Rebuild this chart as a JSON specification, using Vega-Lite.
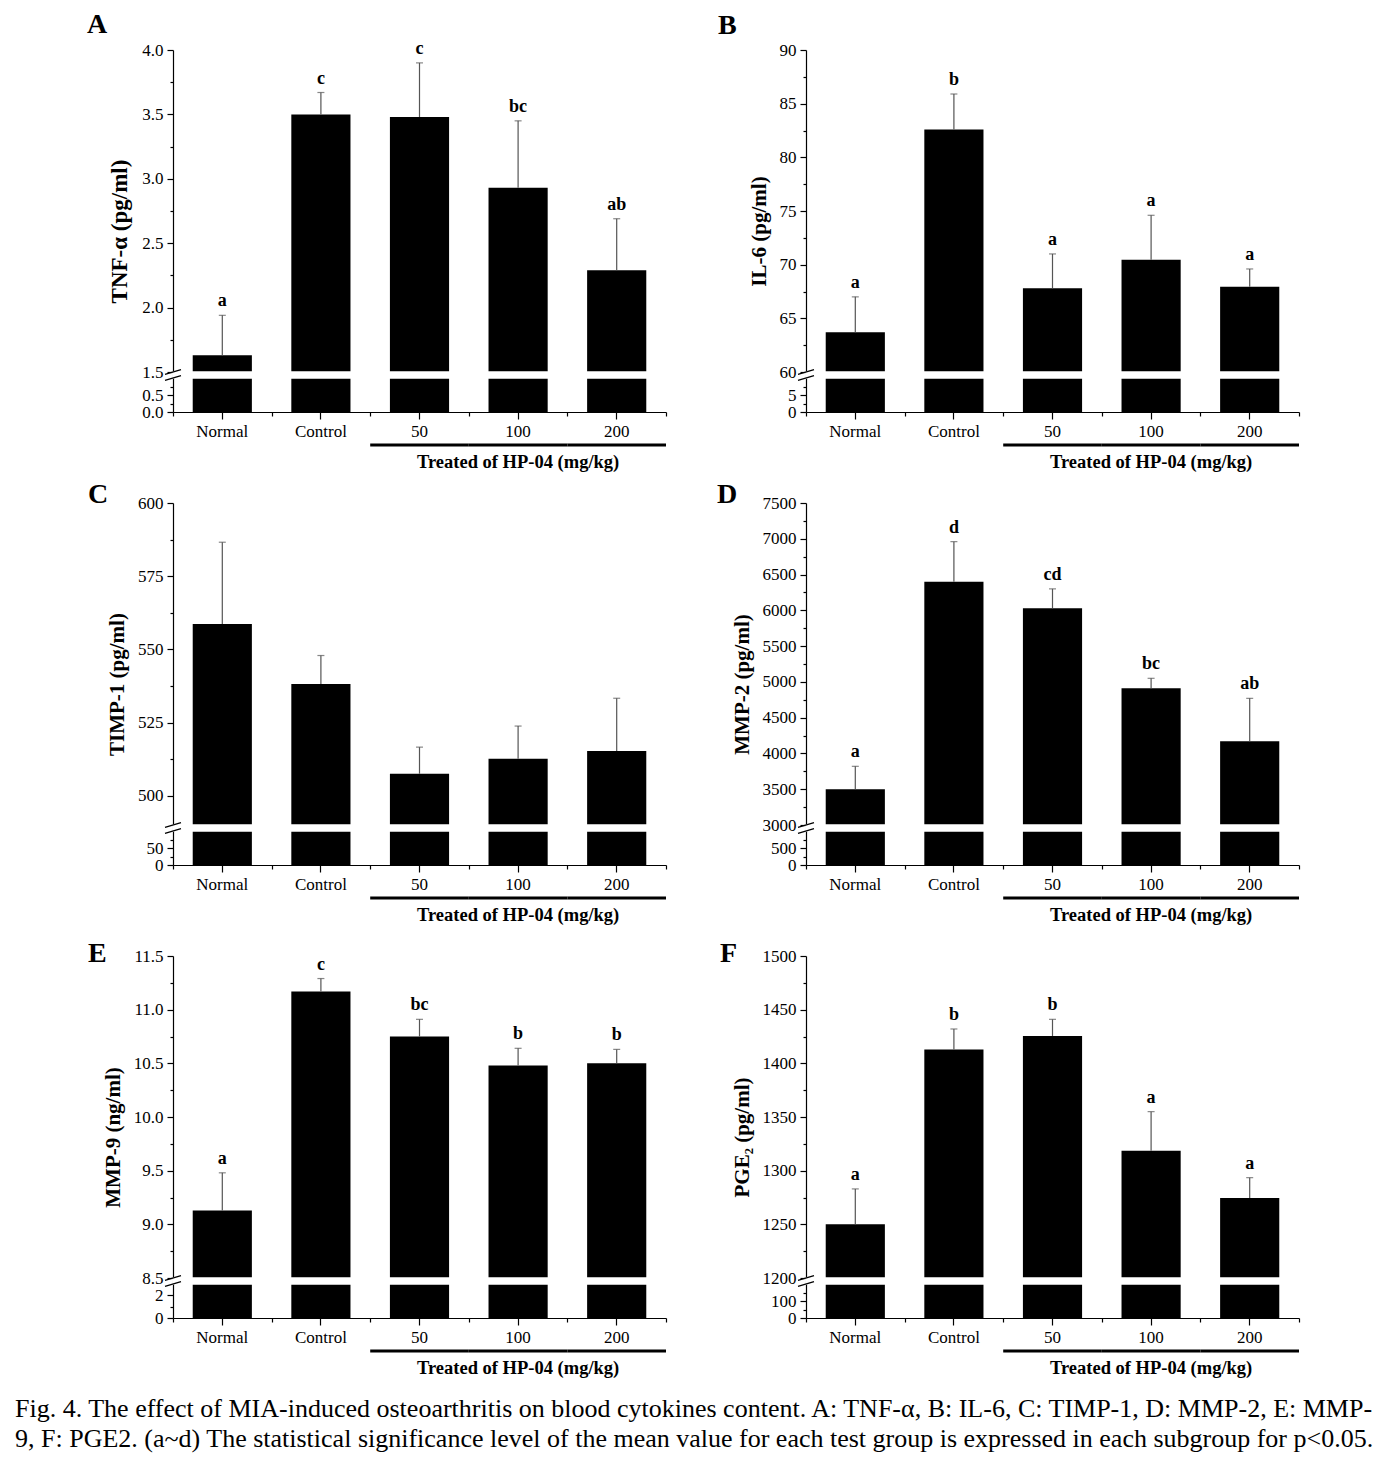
{
  "$schema": "https://vega.github.io/schema/vega-lite/v6.json",
  "padding": {"left": 15, "top": 11, "right": 10, "bottom": 5},
  "title": {
    "text": ["Fig. 4. The effect of MIA-induced osteoarthritis on blood cytokines content. A: TNF-α, B: IL-6, C: TIMP-1, D: MMP-2, E: MMP-", "9, F: PGE2. (a~d) The statistical significance level of the mean value for each test group is expressed in each subgroup for p<0.05."],
    "orient": "bottom", "anchor": "start", "frame": "bounds", "dx": -72, "offset": 18,
    "fontSize": 26, "fontWeight": "normal", "baseline": "top", "lineHeight": 30,
    "font": "Liberation Serif", "color": "black"
  },
  "datasets": {
    "bars": [
      {"panel": "A", "group": "Normal", "mean": 1.63, "upper": 1.94, "sig": "a"},
      {"panel": "A", "group": "Control", "mean": 3.50, "upper": 3.67, "sig": "c"},
      {"panel": "A", "group": "50", "mean": 3.48, "upper": 3.90, "sig": "c"},
      {"panel": "A", "group": "100", "mean": 2.93, "upper": 3.45, "sig": "bc"},
      {"panel": "A", "group": "200", "mean": 2.29, "upper": 2.69, "sig": "ab"},
      {"panel": "B", "group": "Normal", "mean": 63.7, "upper": 67.0, "sig": "a"},
      {"panel": "B", "group": "Control", "mean": 82.6, "upper": 85.9, "sig": "b"},
      {"panel": "B", "group": "50", "mean": 67.8, "upper": 71.0, "sig": "a"},
      {"panel": "B", "group": "100", "mean": 70.45, "upper": 74.6, "sig": "a"},
      {"panel": "B", "group": "200", "mean": 67.95, "upper": 69.6, "sig": "a"},
      {"panel": "C", "group": "Normal", "mean": 558.7, "upper": 586.6, "sig": ""},
      {"panel": "C", "group": "Control", "mean": 538.2, "upper": 547.9, "sig": ""},
      {"panel": "C", "group": "50", "mean": 507.5, "upper": 516.6, "sig": ""},
      {"panel": "C", "group": "100", "mean": 512.6, "upper": 523.8, "sig": ""},
      {"panel": "C", "group": "200", "mean": 515.3, "upper": 533.3, "sig": ""},
      {"panel": "D", "group": "Normal", "mean": 3500, "upper": 3820, "sig": "a"},
      {"panel": "D", "group": "Control", "mean": 6400, "upper": 6960, "sig": "d"},
      {"panel": "D", "group": "50", "mean": 6030, "upper": 6300, "sig": "cd"},
      {"panel": "D", "group": "100", "mean": 4910, "upper": 5050, "sig": "bc"},
      {"panel": "D", "group": "200", "mean": 4170, "upper": 4770, "sig": "ab"},
      {"panel": "E", "group": "Normal", "mean": 9.13, "upper": 9.48, "sig": "a"},
      {"panel": "E", "group": "Control", "mean": 11.17, "upper": 11.29, "sig": "c"},
      {"panel": "E", "group": "50", "mean": 10.75, "upper": 10.91, "sig": "bc"},
      {"panel": "E", "group": "100", "mean": 10.48, "upper": 10.64, "sig": "b"},
      {"panel": "E", "group": "200", "mean": 10.50, "upper": 10.63, "sig": "b"},
      {"panel": "F", "group": "Normal", "mean": 1250, "upper": 1283, "sig": "a"},
      {"panel": "F", "group": "Control", "mean": 1413, "upper": 1432, "sig": "b"},
      {"panel": "F", "group": "50", "mean": 1425.5, "upper": 1441, "sig": "b"},
      {"panel": "F", "group": "100", "mean": 1318.5, "upper": 1355, "sig": "a"},
      {"panel": "F", "group": "200", "mean": 1274.5, "upper": 1293.5, "sig": "a"}
    ],
    "breaks": [
      {"panel": "A", "lo": 1, "hi": 1.5},
      {"panel": "B", "lo": 10, "hi": 60},
      {"panel": "C", "lo": 100, "hi": 490},
      {"panel": "D", "lo": 1000, "hi": 3000},
      {"panel": "E", "lo": 3, "hi": 8.5},
      {"panel": "F", "lo": 200, "hi": 1200}
    ]
  },
  "columns": 2,
  "bounds": "flush",
  "spacing": {"row": 91, "column": 140},
  "concat": [
    {
      "width": 493, "height": 362,
      "title": {"text": "A", "dx": -86, "dy": 3.3},
      "layer": [
        {"data": {"name": "bars"}, "transform": [{"filter": "datum.panel === 'A'"}],
         "mark": {"type": "bar", "color": "black", "width": {"band": 0.6}},
         "encoding": {
           "x": {"field": "group", "type": "nominal", "scale": {"domain": ["Normal", "Control", "50", "100", "200"], "paddingInner": 0, "paddingOuter": 0}, "axis": {"title": null, "labelAngle": 0, "tickSize": 7}},
           "y": {"field": "mean", "type": "quantitative", "scale": {"domain": [0, 1, 1.5, 4], "range": [362, 328, 322, 0], "nice": false, "zero": false},
             "axis": {"title": "TNF-α (pg/ml)", "titleFontSize": 23, "labelOverlap": false, "tickCount": 200, "values": [0, 0.25, 0.5, 0.75, 1.5, 1.75, 2, 2.25, 2.5, 2.75, 3, 3.25, 3.5, 3.75, 4],
               "labelExpr": "indexof([0,0.5,1.5,2,2.5,3,3.5,4], datum.value) >= 0 ? format(datum.value, '.1f') : ''",
               "tickSize": {"condition": {"test": "indexof([0,0.5,1.5,2,2.5,3,3.5,4], datum.value) >= 0", "value": 6}, "value": 3}}}
         }},
        {"data": {"name": "breaks"}, "transform": [{"filter": "datum.panel === 'A'"}],
         "mark": {"type": "rect", "color": "white", "stroke": "white", "strokeWidth": 1.5},
         "encoding": {"x": {"value": 0}, "x2": {"value": "width"}, "y": {"field": "lo", "type": "quantitative"}, "y2": {"field": "hi"}}},
        {"data": {"name": "breaks"}, "transform": [{"filter": "datum.panel === 'A'"}],
         "mark": {"type": "point", "shape": "M -1 0.3 L 1 -0.3 M -1 1.05 L 1 0.45", "filled": false, "stroke": "black", "strokeWidth": 1.3, "size": 256, "opacity": 1},
         "encoding": {"x": {"value": 0}, "y": {"field": "hi", "type": "quantitative"}}},
        {"data": {"name": "bars"}, "transform": [{"filter": "datum.panel === 'A'"}],
         "mark": {"type": "rule", "color": "#555", "strokeWidth": 1.2},
         "encoding": {"x": {"field": "group", "type": "nominal", "axis": null}, "y": {"field": "mean", "type": "quantitative"}, "y2": {"field": "upper"}}},
        {"data": {"name": "bars"}, "transform": [{"filter": "datum.panel === 'A'"}],
         "mark": {"type": "tick", "color": "#555", "thickness": 1.2, "size": 7, "orient": "horizontal"},
         "encoding": {"x": {"field": "group", "type": "nominal", "axis": {"orient": "bottom", "tickBand": "extent", "labels": false, "domain": false, "tickSize": 4, "title": null}}, "y": {"field": "upper", "type": "quantitative"}}},
        {"data": {"name": "bars"}, "transform": [{"filter": "datum.panel === 'A'"}],
         "mark": {"type": "text", "font": "Liberation Serif", "fontWeight": "bold", "fontSize": 18, "baseline": "alphabetic", "dy": -9},
         "encoding": {"x": {"field": "group", "type": "nominal", "axis": null}, "y": {"field": "upper", "type": "quantitative"}, "text": {"field": "sig"}}},
        {"data": {"name": "bars"}, "transform": [{"filter": "datum.panel === 'A'"}, {"filter": {"field": "group", "oneOf": ["50", "100", "200"]}}],
         "mark": {"type": "rect", "color": "black"},
         "encoding": {"x": {"field": "group", "type": "nominal", "axis": null}, "y": {"value": 393.5}, "y2": {"value": 396.5}}},
        {"data": {"name": "bars"}, "transform": [{"filter": "datum.panel === 'A' && datum.group === '100'"}],
         "mark": {"type": "text", "font": "Liberation Serif", "fontWeight": "bold", "fontSize": 18.5, "baseline": "middle"},
         "encoding": {"x": {"field": "group", "type": "nominal", "axis": null}, "y": {"value": 412}, "text": {"value": "Treated of HP-04 (mg/kg)"}}}
      ],
      "resolve": {"axis": {"x": "independent"}}
    },
    {
      "width": 493, "height": 362,
      "title": {"text": "B", "dx": -88, "dy": 3.3},
      "layer": [
        {"data": {"name": "bars"}, "transform": [{"filter": "datum.panel === 'B'"}],
         "mark": {"type": "bar", "color": "black", "width": {"band": 0.6}},
         "encoding": {
           "x": {"field": "group", "type": "nominal", "scale": {"domain": ["Normal", "Control", "50", "100", "200"], "paddingInner": 0, "paddingOuter": 0}, "axis": {"title": null, "labelAngle": 0, "tickSize": 7}},
           "y": {"field": "mean", "type": "quantitative", "scale": {"domain": [0, 10, 60, 90], "range": [362, 328, 322, 0], "nice": false, "zero": false},
             "axis": {"title": "IL-6 (pg/ml)", "labelOverlap": false, "tickCount": 200, "values": [0, 2.5, 5, 7.5, 60, 62.5, 65, 67.5, 70, 72.5, 75, 77.5, 80, 82.5, 85, 87.5, 90],
               "labelExpr": "indexof([0,5,60,65,70,75,80,85,90], datum.value) >= 0 ? format(datum.value, 'd') : ''",
               "tickSize": {"condition": {"test": "indexof([0,5,60,65,70,75,80,85,90], datum.value) >= 0", "value": 6}, "value": 3}}}
         }},
        {"data": {"name": "breaks"}, "transform": [{"filter": "datum.panel === 'B'"}],
         "mark": {"type": "rect", "color": "white", "stroke": "white", "strokeWidth": 1.5},
         "encoding": {"x": {"value": 0}, "x2": {"value": "width"}, "y": {"field": "lo", "type": "quantitative"}, "y2": {"field": "hi"}}},
        {"data": {"name": "breaks"}, "transform": [{"filter": "datum.panel === 'B'"}],
         "mark": {"type": "point", "shape": "M -1 0.3 L 1 -0.3 M -1 1.05 L 1 0.45", "filled": false, "stroke": "black", "strokeWidth": 1.3, "size": 256, "opacity": 1},
         "encoding": {"x": {"value": 0}, "y": {"field": "hi", "type": "quantitative"}}},
        {"data": {"name": "bars"}, "transform": [{"filter": "datum.panel === 'B'"}],
         "mark": {"type": "rule", "color": "#555", "strokeWidth": 1.2},
         "encoding": {"x": {"field": "group", "type": "nominal", "axis": null}, "y": {"field": "mean", "type": "quantitative"}, "y2": {"field": "upper"}}},
        {"data": {"name": "bars"}, "transform": [{"filter": "datum.panel === 'B'"}],
         "mark": {"type": "tick", "color": "#555", "thickness": 1.2, "size": 7, "orient": "horizontal"},
         "encoding": {"x": {"field": "group", "type": "nominal", "axis": {"orient": "bottom", "tickBand": "extent", "labels": false, "domain": false, "tickSize": 4, "title": null}}, "y": {"field": "upper", "type": "quantitative"}}},
        {"data": {"name": "bars"}, "transform": [{"filter": "datum.panel === 'B'"}],
         "mark": {"type": "text", "font": "Liberation Serif", "fontWeight": "bold", "fontSize": 18, "baseline": "alphabetic", "dy": -9},
         "encoding": {"x": {"field": "group", "type": "nominal", "axis": null}, "y": {"field": "upper", "type": "quantitative"}, "text": {"field": "sig"}}},
        {"data": {"name": "bars"}, "transform": [{"filter": "datum.panel === 'B'"}, {"filter": {"field": "group", "oneOf": ["50", "100", "200"]}}],
         "mark": {"type": "rect", "color": "black"},
         "encoding": {"x": {"field": "group", "type": "nominal", "axis": null}, "y": {"value": 393.5}, "y2": {"value": 396.5}}},
        {"data": {"name": "bars"}, "transform": [{"filter": "datum.panel === 'B' && datum.group === '100'"}],
         "mark": {"type": "text", "font": "Liberation Serif", "fontWeight": "bold", "fontSize": 18.5, "baseline": "middle"},
         "encoding": {"x": {"field": "group", "type": "nominal", "axis": null}, "y": {"value": 412}, "text": {"value": "Treated of HP-04 (mg/kg)"}}}
      ],
      "resolve": {"axis": {"x": "independent"}}
    },
    {
      "width": 493, "height": 362,
      "title": {"text": "C", "dx": -85, "dy": 18.5},
      "layer": [
        {"data": {"name": "bars"}, "transform": [{"filter": "datum.panel === 'C'"}],
         "mark": {"type": "bar", "color": "black", "width": {"band": 0.6}},
         "encoding": {
           "x": {"field": "group", "type": "nominal", "scale": {"domain": ["Normal", "Control", "50", "100", "200"], "paddingInner": 0, "paddingOuter": 0}, "axis": {"title": null, "labelAngle": 0, "tickSize": 7}},
           "y": {"field": "mean", "type": "quantitative", "scale": {"domain": [0, 100, 490, 600], "range": [362, 328, 322, 0], "nice": false, "zero": false},
             "axis": {"title": "TIMP-1 (pg/ml)", "labelOverlap": false, "tickCount": 200, "values": [0, 25, 50, 75, 500, 512.5, 525, 537.5, 550, 562.5, 575, 587.5, 600],
               "labelExpr": "indexof([0,50,500,525,550,575,600], datum.value) >= 0 ? format(datum.value, 'd') : ''",
               "tickSize": {"condition": {"test": "indexof([0,50,500,525,550,575,600], datum.value) >= 0", "value": 6}, "value": 3}}}
         }},
        {"data": {"name": "breaks"}, "transform": [{"filter": "datum.panel === 'C'"}],
         "mark": {"type": "rect", "color": "white", "stroke": "white", "strokeWidth": 1.5},
         "encoding": {"x": {"value": 0}, "x2": {"value": "width"}, "y": {"field": "lo", "type": "quantitative"}, "y2": {"field": "hi"}}},
        {"data": {"name": "breaks"}, "transform": [{"filter": "datum.panel === 'C'"}],
         "mark": {"type": "point", "shape": "M -1 0.3 L 1 -0.3 M -1 1.05 L 1 0.45", "filled": false, "stroke": "black", "strokeWidth": 1.3, "size": 256, "opacity": 1},
         "encoding": {"x": {"value": 0}, "y": {"field": "hi", "type": "quantitative"}}},
        {"data": {"name": "bars"}, "transform": [{"filter": "datum.panel === 'C'"}],
         "mark": {"type": "rule", "color": "#555", "strokeWidth": 1.2},
         "encoding": {"x": {"field": "group", "type": "nominal", "axis": null}, "y": {"field": "mean", "type": "quantitative"}, "y2": {"field": "upper"}}},
        {"data": {"name": "bars"}, "transform": [{"filter": "datum.panel === 'C'"}],
         "mark": {"type": "tick", "color": "#555", "thickness": 1.2, "size": 7, "orient": "horizontal"},
         "encoding": {"x": {"field": "group", "type": "nominal", "axis": {"orient": "bottom", "tickBand": "extent", "labels": false, "domain": false, "tickSize": 4, "title": null}}, "y": {"field": "upper", "type": "quantitative"}}},
        {"data": {"name": "bars"}, "transform": [{"filter": "datum.panel === 'C'"}, {"filter": {"field": "group", "oneOf": ["50", "100", "200"]}}],
         "mark": {"type": "rect", "color": "black"},
         "encoding": {"x": {"field": "group", "type": "nominal", "axis": null}, "y": {"value": 393.5}, "y2": {"value": 396.5}}},
        {"data": {"name": "bars"}, "transform": [{"filter": "datum.panel === 'C' && datum.group === '100'"}],
         "mark": {"type": "text", "font": "Liberation Serif", "fontWeight": "bold", "fontSize": 18.5, "baseline": "middle"},
         "encoding": {"x": {"field": "group", "type": "nominal", "axis": null}, "y": {"value": 412}, "text": {"value": "Treated of HP-04 (mg/kg)"}}}
      ],
      "resolve": {"axis": {"x": "independent"}}
    },
    {
      "width": 493, "height": 362,
      "title": {"text": "D", "dx": -89, "dy": 18.5},
      "layer": [
        {"data": {"name": "bars"}, "transform": [{"filter": "datum.panel === 'D'"}],
         "mark": {"type": "bar", "color": "black", "width": {"band": 0.6}},
         "encoding": {
           "x": {"field": "group", "type": "nominal", "scale": {"domain": ["Normal", "Control", "50", "100", "200"], "paddingInner": 0, "paddingOuter": 0}, "axis": {"title": null, "labelAngle": 0, "tickSize": 7}},
           "y": {"field": "mean", "type": "quantitative", "scale": {"domain": [0, 1000, 3000, 7500], "range": [362, 328, 322, 0], "nice": false, "zero": false},
             "axis": {"title": "MMP-2 (pg/ml)", "labelOverlap": false, "tickCount": 200, "values": [0, 250, 500, 750, 3000, 3250, 3500, 3750, 4000, 4250, 4500, 4750, 5000, 5250, 5500, 5750, 6000, 6250, 6500, 6750, 7000, 7250, 7500],
               "labelExpr": "indexof([0,500,3000,3500,4000,4500,5000,5500,6000,6500,7000,7500], datum.value) >= 0 ? format(datum.value, 'd') : ''",
               "tickSize": {"condition": {"test": "indexof([0,500,3000,3500,4000,4500,5000,5500,6000,6500,7000,7500], datum.value) >= 0", "value": 6}, "value": 3}}}
         }},
        {"data": {"name": "breaks"}, "transform": [{"filter": "datum.panel === 'D'"}],
         "mark": {"type": "rect", "color": "white", "stroke": "white", "strokeWidth": 1.5},
         "encoding": {"x": {"value": 0}, "x2": {"value": "width"}, "y": {"field": "lo", "type": "quantitative"}, "y2": {"field": "hi"}}},
        {"data": {"name": "breaks"}, "transform": [{"filter": "datum.panel === 'D'"}],
         "mark": {"type": "point", "shape": "M -1 0.3 L 1 -0.3 M -1 1.05 L 1 0.45", "filled": false, "stroke": "black", "strokeWidth": 1.3, "size": 256, "opacity": 1},
         "encoding": {"x": {"value": 0}, "y": {"field": "hi", "type": "quantitative"}}},
        {"data": {"name": "bars"}, "transform": [{"filter": "datum.panel === 'D'"}],
         "mark": {"type": "rule", "color": "#555", "strokeWidth": 1.2},
         "encoding": {"x": {"field": "group", "type": "nominal", "axis": null}, "y": {"field": "mean", "type": "quantitative"}, "y2": {"field": "upper"}}},
        {"data": {"name": "bars"}, "transform": [{"filter": "datum.panel === 'D'"}],
         "mark": {"type": "tick", "color": "#555", "thickness": 1.2, "size": 7, "orient": "horizontal"},
         "encoding": {"x": {"field": "group", "type": "nominal", "axis": {"orient": "bottom", "tickBand": "extent", "labels": false, "domain": false, "tickSize": 4, "title": null}}, "y": {"field": "upper", "type": "quantitative"}}},
        {"data": {"name": "bars"}, "transform": [{"filter": "datum.panel === 'D'"}],
         "mark": {"type": "text", "font": "Liberation Serif", "fontWeight": "bold", "fontSize": 18, "baseline": "alphabetic", "dy": -9},
         "encoding": {"x": {"field": "group", "type": "nominal", "axis": null}, "y": {"field": "upper", "type": "quantitative"}, "text": {"field": "sig"}}},
        {"data": {"name": "bars"}, "transform": [{"filter": "datum.panel === 'D'"}, {"filter": {"field": "group", "oneOf": ["50", "100", "200"]}}],
         "mark": {"type": "rect", "color": "black"},
         "encoding": {"x": {"field": "group", "type": "nominal", "axis": null}, "y": {"value": 393.5}, "y2": {"value": 396.5}}},
        {"data": {"name": "bars"}, "transform": [{"filter": "datum.panel === 'D' && datum.group === '100'"}],
         "mark": {"type": "text", "font": "Liberation Serif", "fontWeight": "bold", "fontSize": 18.5, "baseline": "middle"},
         "encoding": {"x": {"field": "group", "type": "nominal", "axis": null}, "y": {"value": 412}, "text": {"value": "Treated of HP-04 (mg/kg)"}}}
      ],
      "resolve": {"axis": {"x": "independent"}}
    },
    {
      "width": 493, "height": 362,
      "title": {"text": "E", "dx": -85, "dy": 24.5},
      "layer": [
        {"data": {"name": "bars"}, "transform": [{"filter": "datum.panel === 'E'"}],
         "mark": {"type": "bar", "color": "black", "width": {"band": 0.6}},
         "encoding": {
           "x": {"field": "group", "type": "nominal", "scale": {"domain": ["Normal", "Control", "50", "100", "200"], "paddingInner": 0, "paddingOuter": 0}, "axis": {"title": null, "labelAngle": 0, "tickSize": 7}},
           "y": {"field": "mean", "type": "quantitative", "scale": {"domain": [0, 3, 8.5, 11.5], "range": [362, 328, 322, 0], "nice": false, "zero": false},
             "axis": {"title": "MMP-9 (ng/ml)", "labelOverlap": false, "tickCount": 200, "values": [0, 1, 2, 8.5, 8.75, 9, 9.25, 9.5, 9.75, 10, 10.25, 10.5, 10.75, 11, 11.25, 11.5],
               "labelExpr": "indexof([0,2,8.5,9,9.5,10,10.5,11,11.5], datum.value) >= 0 ? (datum.value < 5 ? format(datum.value, 'd') : format(datum.value, '.1f')) : ''",
               "tickSize": {"condition": {"test": "indexof([0,2,8.5,9,9.5,10,10.5,11,11.5], datum.value) >= 0", "value": 6}, "value": 3}}}
         }},
        {"data": {"name": "breaks"}, "transform": [{"filter": "datum.panel === 'E'"}],
         "mark": {"type": "rect", "color": "white", "stroke": "white", "strokeWidth": 1.5},
         "encoding": {"x": {"value": 0}, "x2": {"value": "width"}, "y": {"field": "lo", "type": "quantitative"}, "y2": {"field": "hi"}}},
        {"data": {"name": "breaks"}, "transform": [{"filter": "datum.panel === 'E'"}],
         "mark": {"type": "point", "shape": "M -1 0.3 L 1 -0.3 M -1 1.05 L 1 0.45", "filled": false, "stroke": "black", "strokeWidth": 1.3, "size": 256, "opacity": 1},
         "encoding": {"x": {"value": 0}, "y": {"field": "hi", "type": "quantitative"}}},
        {"data": {"name": "bars"}, "transform": [{"filter": "datum.panel === 'E'"}],
         "mark": {"type": "rule", "color": "#555", "strokeWidth": 1.2},
         "encoding": {"x": {"field": "group", "type": "nominal", "axis": null}, "y": {"field": "mean", "type": "quantitative"}, "y2": {"field": "upper"}}},
        {"data": {"name": "bars"}, "transform": [{"filter": "datum.panel === 'E'"}],
         "mark": {"type": "tick", "color": "#555", "thickness": 1.2, "size": 7, "orient": "horizontal"},
         "encoding": {"x": {"field": "group", "type": "nominal", "axis": {"orient": "bottom", "tickBand": "extent", "labels": false, "domain": false, "tickSize": 4, "title": null}}, "y": {"field": "upper", "type": "quantitative"}}},
        {"data": {"name": "bars"}, "transform": [{"filter": "datum.panel === 'E'"}],
         "mark": {"type": "text", "font": "Liberation Serif", "fontWeight": "bold", "fontSize": 18, "baseline": "alphabetic", "dy": -9},
         "encoding": {"x": {"field": "group", "type": "nominal", "axis": null}, "y": {"field": "upper", "type": "quantitative"}, "text": {"field": "sig"}}},
        {"data": {"name": "bars"}, "transform": [{"filter": "datum.panel === 'E'"}, {"filter": {"field": "group", "oneOf": ["50", "100", "200"]}}],
         "mark": {"type": "rect", "color": "black"},
         "encoding": {"x": {"field": "group", "type": "nominal", "axis": null}, "y": {"value": 393.5}, "y2": {"value": 396.5}}},
        {"data": {"name": "bars"}, "transform": [{"filter": "datum.panel === 'E' && datum.group === '100'"}],
         "mark": {"type": "text", "font": "Liberation Serif", "fontWeight": "bold", "fontSize": 18.5, "baseline": "middle"},
         "encoding": {"x": {"field": "group", "type": "nominal", "axis": null}, "y": {"value": 412}, "text": {"value": "Treated of HP-04 (mg/kg)"}}}
      ],
      "resolve": {"axis": {"x": "independent"}}
    },
    {
      "width": 493, "height": 362,
      "title": {"text": "F", "dx": -86, "dy": 24.5},
      "layer": [
        {"data": {"name": "bars"}, "transform": [{"filter": "datum.panel === 'F'"}],
         "mark": {"type": "bar", "color": "black", "width": {"band": 0.6}},
         "encoding": {
           "x": {"field": "group", "type": "nominal", "scale": {"domain": ["Normal", "Control", "50", "100", "200"], "paddingInner": 0, "paddingOuter": 0}, "axis": {"title": null, "labelAngle": 0, "tickSize": 7}},
           "y": {"field": "mean", "type": "quantitative", "scale": {"domain": [0, 200, 1200, 1500], "range": [362, 328, 322, 0], "nice": false, "zero": false},
             "axis": {"title": "PGE₂ (pg/ml)", "labelOverlap": false, "tickCount": 200, "values": [0, 50, 100, 150, 1200, 1225, 1250, 1275, 1300, 1325, 1350, 1375, 1400, 1425, 1450, 1475, 1500],
               "labelExpr": "indexof([0,100,1200,1250,1300,1350,1400,1450,1500], datum.value) >= 0 ? format(datum.value, 'd') : ''",
               "tickSize": {"condition": {"test": "indexof([0,100,1200,1250,1300,1350,1400,1450,1500], datum.value) >= 0", "value": 6}, "value": 3}}}
         }},
        {"data": {"name": "breaks"}, "transform": [{"filter": "datum.panel === 'F'"}],
         "mark": {"type": "rect", "color": "white", "stroke": "white", "strokeWidth": 1.5},
         "encoding": {"x": {"value": 0}, "x2": {"value": "width"}, "y": {"field": "lo", "type": "quantitative"}, "y2": {"field": "hi"}}},
        {"data": {"name": "breaks"}, "transform": [{"filter": "datum.panel === 'F'"}],
         "mark": {"type": "point", "shape": "M -1 0.3 L 1 -0.3 M -1 1.05 L 1 0.45", "filled": false, "stroke": "black", "strokeWidth": 1.3, "size": 256, "opacity": 1},
         "encoding": {"x": {"value": 0}, "y": {"field": "hi", "type": "quantitative"}}},
        {"data": {"name": "bars"}, "transform": [{"filter": "datum.panel === 'F'"}],
         "mark": {"type": "rule", "color": "#555", "strokeWidth": 1.2},
         "encoding": {"x": {"field": "group", "type": "nominal", "axis": null}, "y": {"field": "mean", "type": "quantitative"}, "y2": {"field": "upper"}}},
        {"data": {"name": "bars"}, "transform": [{"filter": "datum.panel === 'F'"}],
         "mark": {"type": "tick", "color": "#555", "thickness": 1.2, "size": 7, "orient": "horizontal"},
         "encoding": {"x": {"field": "group", "type": "nominal", "axis": {"orient": "bottom", "tickBand": "extent", "labels": false, "domain": false, "tickSize": 4, "title": null}}, "y": {"field": "upper", "type": "quantitative"}}},
        {"data": {"name": "bars"}, "transform": [{"filter": "datum.panel === 'F'"}],
         "mark": {"type": "text", "font": "Liberation Serif", "fontWeight": "bold", "fontSize": 18, "baseline": "alphabetic", "dy": -9},
         "encoding": {"x": {"field": "group", "type": "nominal", "axis": null}, "y": {"field": "upper", "type": "quantitative"}, "text": {"field": "sig"}}},
        {"data": {"name": "bars"}, "transform": [{"filter": "datum.panel === 'F'"}, {"filter": {"field": "group", "oneOf": ["50", "100", "200"]}}],
         "mark": {"type": "rect", "color": "black"},
         "encoding": {"x": {"field": "group", "type": "nominal", "axis": null}, "y": {"value": 393.5}, "y2": {"value": 396.5}}},
        {"data": {"name": "bars"}, "transform": [{"filter": "datum.panel === 'F' && datum.group === '100'"}],
         "mark": {"type": "text", "font": "Liberation Serif", "fontWeight": "bold", "fontSize": 18.5, "baseline": "middle"},
         "encoding": {"x": {"field": "group", "type": "nominal", "axis": null}, "y": {"value": 412}, "text": {"value": "Treated of HP-04 (mg/kg)"}}}
      ],
      "resolve": {"axis": {"x": "independent"}}
    }
  ],
  "config": {
    "view": {"stroke": null},
    "font": "Liberation Serif",
    "background": "white",
    "title": {"font": "Liberation Serif", "fontSize": 28, "fontWeight": "bold", "anchor": "start", "frame": "group", "baseline": "alphabetic", "offset": 0, "color": "black"},
    "axis": {"grid": false, "domainColor": "black", "tickColor": "black", "labelColor": "black", "titleColor": "black", "labelFont": "Liberation Serif", "titleFont": "Liberation Serif", "labelFontSize": 17, "titleFontSize": 21, "titleFontWeight": "bold", "domainWidth": 1.2, "tickWidth": 1.2, "labelBound": false},
    "axisY": {"labelPadding": 4, "titlePadding": 10},
    "axisX": {"labelPadding": 4}
  }
}
